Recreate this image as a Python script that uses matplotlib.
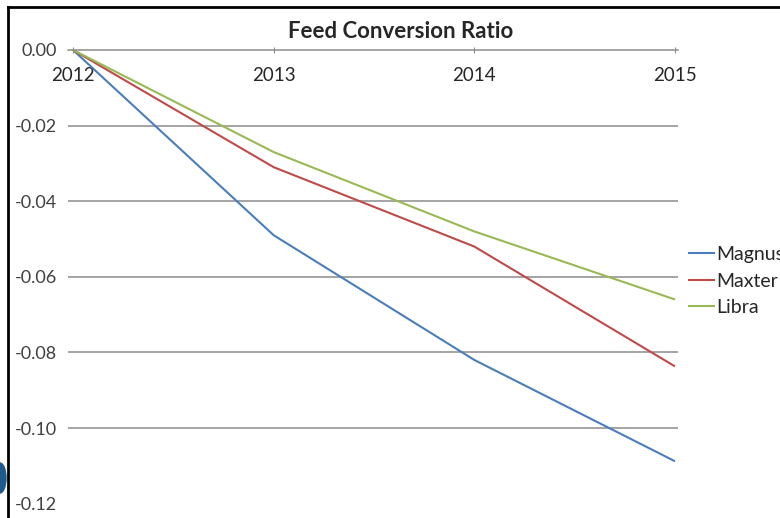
import matplotlib.pyplot as plt
from matplotlib.patches import Ellipse
from matplotlib.lines import Line2D

years = ["2012", "2013", "2014", "2015"]
magnus = [0.0, -0.049, -0.082, -0.1088]
maxter = [0.0, -0.031, -0.052, -0.0837]
libra = [0.0, -0.027, -0.048, -0.066]
y_ticks = [0.00, -0.02, -0.04, -0.06, -0.08, -0.10, -0.12]

series = [
    ("Magnus", magnus, "#4A7EBB"),
    ("Maxter", maxter, "#BE4B48"),
    ("Libra", libra, "#98B954"),
]

plt.rcParams["font.family"] = ["Lato", "DejaVu Sans"]

W, H = 780, 518
fig = plt.figure(figsize=(W / 100, H / 100), dpi=100)
fig.patch.set_facecolor("white")

# plot area in pixel terms of the screenshot
left, right, top, bottom = 68, 678, 50, 503.6
ax = fig.add_axes([left / W, 1 - bottom / H, (right - left) / W, (bottom - top) / H])

x = list(range(len(years)))
for name, vals, color in series:
    ax.plot(x, vals, color=color, lw=1.5, label=name, solid_capstyle="butt")

ax.set_xlim(-0.025, 3.015)
ax.set_ylim(y_ticks[-1], y_ticks[0])

for v in y_ticks[1:-1]:
    ax.axhline(v, color="#8C8C8C", lw=1.1, zorder=0)

for s in ["left", "right", "bottom"]:
    ax.spines[s].set_visible(False)
ax.spines["top"].set_color("#8C8C8C")
ax.spines["top"].set_linewidth(1.1)

ax.xaxis.tick_top()
ax.set_xticks(x)
ax.set_xticklabels(years)
ax.tick_params(axis="x", direction="inout", length=5, width=0.8, color="#8C8C8C",
               pad=-27, labelsize=13.5, labelcolor="#262626")

ax.set_yticks(y_ticks)
ax.set_yticklabels([f"{v:.2f}" for v in y_ticks])
ax.tick_params(axis="y", length=0, pad=8, labelsize=13, labelcolor="#404040")

fig.text(401 / W, 1 - 31 / H, "Feed Conversion Ratio", ha="center", va="center",
         fontsize=16, fontweight="bold", color="#262626")

handles = [Line2D([], [], color=c, lw=1.5) for _, _, c in series]
fig.legend(handles, [n for n, _, _ in series], loc="center left",
           bbox_to_anchor=(689 / W, 1 - 281 / H), frameon=False, fontsize=14,
           handlelength=1.3, handletextpad=0.1, labelspacing=0.5,
           borderpad=0, borderaxespad=0, labelcolor="#262626")

# screenshot frame
fig.add_artist(Line2D([8 / W, 8 / W], [0, 1 - 7 / H], color="black", lw=2,
                      transform=fig.transFigure))
fig.add_artist(Line2D([8 / W, 1], [1 - 7 / H, 1 - 7 / H], color="black", lw=2,
                      transform=fig.transFigure))
fig.add_artist(Ellipse((0, 1 - 478 / H), 12 / W, 30 / H, color="#1F5A8C",
                       transform=fig.transFigure))

fig.savefig("out.png", dpi=100)
